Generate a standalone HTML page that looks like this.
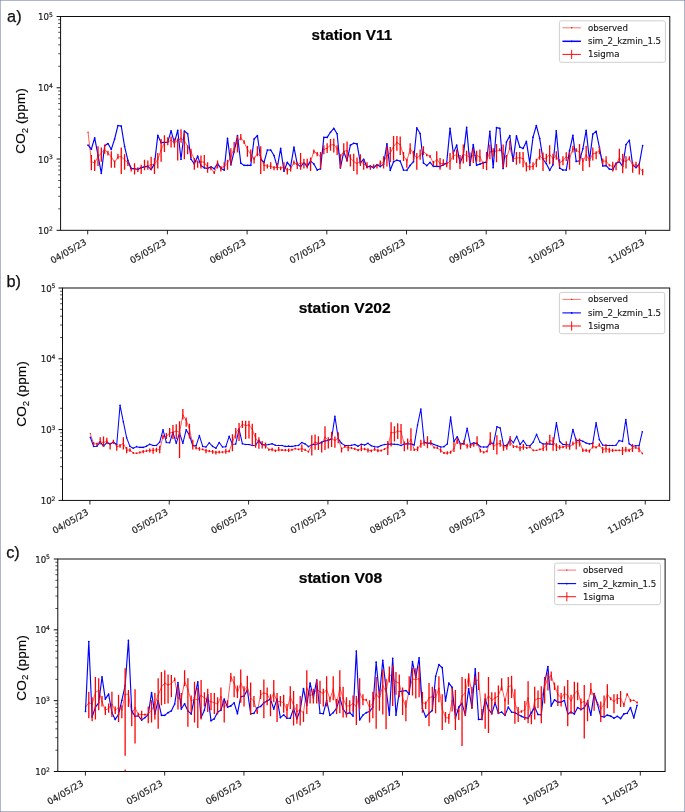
<!DOCTYPE html>
<html lang="en"><head><meta charset="utf-8"><title>CO2 time series at stations V11, V202, V08</title>
<style>
html,body{margin:0;padding:0;background:#fff;}
body{width:685px;height:812px;overflow:hidden;position:relative;}
svg{position:absolute;left:0;top:0;display:block;}
.tk{font-family:"DejaVu Sans","Liberation Sans",sans-serif;font-size:8.9px;fill:#1a1a1a;stroke:#1a1a1a;stroke-width:0.18px;}
.ty{font-size:8.6px;}
.sup{font-size:6.1px;}
.lg{font-family:"DejaVu Sans","Liberation Sans",sans-serif;font-size:8.65px;fill:#1a1a1a;stroke:#1a1a1a;stroke-width:0.15px;}
.lt{font-family:"Liberation Sans",Arial,sans-serif;font-size:16.3px;fill:#111;stroke:#111;stroke-width:0.25px;}
.tt{font-family:"Liberation Sans",Arial,sans-serif;font-size:15.1px;font-weight:bold;fill:#000;stroke:#000;stroke-width:0.2px;}
.yl{font-family:"Liberation Sans",Arial,sans-serif;font-size:13.7px;fill:#000;stroke:#000;stroke-width:0.15px;}
.ysub{font-size:9.6px;}
</style></head><body>
<svg width="685" height="812" viewBox="0 0 685 812">
<rect x="0" y="0" width="685" height="812" fill="#fff"/>
<g opacity="0.999">
<g>
<clipPath id="cpa"><rect x="60.6" y="16.5" width="609.2" height="213.8"/></clipPath>
<g clip-path="url(#cpa)">
<polyline points="88.05,132.26 91.37,161.69 94.69,162.92 98.01,156.79 101.33,153.11 104.65,149.43 107.97,153.11 111.3,156.79 114.62,162.31 117.94,156.79 121.26,156.79 124.58,159.85 127.9,162.92 131.22,169.05 134.54,168.8 137.86,169.66 141.18,168.07 144.5,166.6 147.82,165.98 151.15,164.76 154.47,164.39 157.79,159.24 161.11,150.04 164.43,142.69 167.75,142.07 171.07,140.23 174.39,142.69 177.71,140.85 181.03,138.39 184.35,140.85 187.68,146.36 191,151.88 194.32,159.24 197.64,162.31 200.96,161.69 204.28,162.31 207.6,167.21 210.92,168.07 214.24,172.73 217.56,164.76 220.88,167.82 224.2,166.6 227.52,162.92 230.85,156.79 234.17,148.2 237.49,141.46 240.81,137.78 244.13,142.07 247.45,149.43 250.77,154.33 254.09,159.24 257.41,153.11 260.73,156.79 264.05,165.37 267.38,165.98 270.7,166.35 274.02,167.82 277.34,167.21 280.66,168.07 283.98,167.21 287.3,170.28 290.62,169.05 293.94,162.31 297.26,164.76 300.58,162.92 303.9,163.53 307.23,164.14 310.55,161.69 313.87,151.27 317.19,153.72 320.51,156.79 323.83,149.43 327.15,148.2 330.47,145.14 333.79,144.52 337.11,148.82 340.43,156.79 343.75,151.27 347.07,150.66 350.4,158.01 353.72,161.69 357.04,163.53 360.36,161.08 363.68,164.14 367,165.98 370.32,167.21 373.64,166.35 376.96,165.62 380.28,163.53 383.6,162.31 386.93,155.56 390.25,153.11 393.57,146.36 396.89,142.69 400.21,144.52 403.53,155.56 406.85,161.08 410.17,148.82 413.49,153.72 416.81,158.01 420.13,155.56 423.45,151.27 426.77,154.95 430.1,156.42 433.42,163.16 436.74,159.24 440.06,163.53 443.38,163.53 446.7,164.14 450.02,161.08 453.34,155.56 456.66,154.95 459.98,159.24 463.3,154.33 466.62,155.56 469.95,157.4 473.27,155.56 476.59,155.56 479.91,156.79 483.23,163.53 486.55,160.47 489.87,151.88 493.19,151.27 496.51,151.27 499.83,149.8 503.15,153.72 506.47,158.01 509.8,148.2 513.12,158.99 516.44,158.01 519.76,157.77 523.08,158.63 526.4,165.98 529.72,166.97 533.04,166.35 536.36,161.69 539.68,155.56 543,159.24 546.32,158.01 549.65,154.33 552.97,158.63 556.29,155.56 559.61,162.92 562.93,160.47 566.25,156.79 569.57,158.63 572.89,148.82 576.21,150.04 579.53,152.5 582.85,161.69 586.17,154.95 589.5,160.47 592.82,153.72 596.14,153.11 599.46,150.66 602.78,161.08 606.1,161.08 609.42,165.37 612.74,166.35 616.06,164.14 619.38,158.01 622.7,161.08 626.02,161.08 629.35,158.63 632.67,165.37 635.99,164.76 639.31,167.82 642.63,171.5" stroke="#ff0000" stroke-width="0.65" fill="none" stroke-linejoin="round"/>
<path d="M88.05 132.26h0M91.37 161.69h0M94.69 162.92h0M98.01 156.79h0M101.33 153.11h0M104.65 149.43h0M107.97 153.11h0M111.3 156.79h0M114.62 162.31h0M117.94 156.79h0M121.26 156.79h0M124.58 159.85h0M127.9 162.92h0M131.22 169.05h0M134.54 168.8h0M137.86 169.66h0M141.18 168.07h0M144.5 166.6h0M147.82 165.98h0M151.15 164.76h0M154.47 164.39h0M157.79 159.24h0M161.11 150.04h0M164.43 142.69h0M167.75 142.07h0M171.07 140.23h0M174.39 142.69h0M177.71 140.85h0M181.03 138.39h0M184.35 140.85h0M187.68 146.36h0M191 151.88h0M194.32 159.24h0M197.64 162.31h0M200.96 161.69h0M204.28 162.31h0M207.6 167.21h0M210.92 168.07h0M214.24 172.73h0M217.56 164.76h0M220.88 167.82h0M224.2 166.6h0M227.52 162.92h0M230.85 156.79h0M234.17 148.2h0M237.49 141.46h0M240.81 137.78h0M244.13 142.07h0M247.45 149.43h0M250.77 154.33h0M254.09 159.24h0M257.41 153.11h0M260.73 156.79h0M264.05 165.37h0M267.38 165.98h0M270.7 166.35h0M274.02 167.82h0M277.34 167.21h0M280.66 168.07h0M283.98 167.21h0M287.3 170.28h0M290.62 169.05h0M293.94 162.31h0M297.26 164.76h0M300.58 162.92h0M303.9 163.53h0M307.23 164.14h0M310.55 161.69h0M313.87 151.27h0M317.19 153.72h0M320.51 156.79h0M323.83 149.43h0M327.15 148.2h0M330.47 145.14h0M333.79 144.52h0M337.11 148.82h0M340.43 156.79h0M343.75 151.27h0M347.07 150.66h0M350.4 158.01h0M353.72 161.69h0M357.04 163.53h0M360.36 161.08h0M363.68 164.14h0M367 165.98h0M370.32 167.21h0M373.64 166.35h0M376.96 165.62h0M380.28 163.53h0M383.6 162.31h0M386.93 155.56h0M390.25 153.11h0M393.57 146.36h0M396.89 142.69h0M400.21 144.52h0M403.53 155.56h0M406.85 161.08h0M410.17 148.82h0M413.49 153.72h0M416.81 158.01h0M420.13 155.56h0M423.45 151.27h0M426.77 154.95h0M430.1 156.42h0M433.42 163.16h0M436.74 159.24h0M440.06 163.53h0M443.38 163.53h0M446.7 164.14h0M450.02 161.08h0M453.34 155.56h0M456.66 154.95h0M459.98 159.24h0M463.3 154.33h0M466.62 155.56h0M469.95 157.4h0M473.27 155.56h0M476.59 155.56h0M479.91 156.79h0M483.23 163.53h0M486.55 160.47h0M489.87 151.88h0M493.19 151.27h0M496.51 151.27h0M499.83 149.8h0M503.15 153.72h0M506.47 158.01h0M509.8 148.2h0M513.12 158.99h0M516.44 158.01h0M519.76 157.77h0M523.08 158.63h0M526.4 165.98h0M529.72 166.97h0M533.04 166.35h0M536.36 161.69h0M539.68 155.56h0M543 159.24h0M546.32 158.01h0M549.65 154.33h0M552.97 158.63h0M556.29 155.56h0M559.61 162.92h0M562.93 160.47h0M566.25 156.79h0M569.57 158.63h0M572.89 148.82h0M576.21 150.04h0M579.53 152.5h0M582.85 161.69h0M586.17 154.95h0M589.5 160.47h0M592.82 153.72h0M596.14 153.11h0M599.46 150.66h0M602.78 161.08h0M606.1 161.08h0M609.42 165.37h0M612.74 166.35h0M616.06 164.14h0M619.38 158.01h0M622.7 161.08h0M626.02 161.08h0M629.35 158.63h0M632.67 165.37h0M635.99 164.76h0M639.31 167.82h0M642.63 171.5h0" stroke="#ff0000" stroke-width="1.3" stroke-linecap="round" fill="none"/>
<polyline points="88.05,145.14 91.37,149.18 94.69,137.78 98.01,155.32 101.33,173.34 104.65,145.75 107.97,143.54 111.3,149.43 114.62,139.01 117.94,125.52 121.26,126.13 124.58,146.36 127.9,160.47 131.22,168.44 134.54,168.8 137.86,169.29 141.18,167.58 144.5,166.84 147.82,166.35 151.15,169.42 154.47,164.14 157.79,135.33 161.11,142.69 164.43,142.32 167.75,142.07 171.07,130.79 174.39,142.69 177.71,130.42 181.03,159.24 184.35,131.04 187.68,133.73 191,159.24 194.32,163.9 197.64,156.17 200.96,165.62 204.28,167.82 207.6,168.44 210.92,166.84 214.24,168.8 217.56,163.53 220.88,168.44 224.2,170.03 227.52,138.39 230.85,164.76 234.17,151.27 237.49,135.7 240.81,163.16 244.13,165.37 247.45,165.37 250.77,165.37 254.09,139.01 257.41,135.7 260.73,159.24 264.05,162.31 267.38,150.04 270.7,150.04 274.02,155.56 277.34,167.21 280.66,148.45 283.98,171.26 287.3,162.31 290.62,166.6 293.94,147.22 297.26,164.14 300.58,166.6 303.9,162.92 307.23,166.6 310.55,161.08 313.87,163.9 317.19,170.03 320.51,168.8 323.83,137.41 327.15,137.41 330.47,132.26 333.79,128.34 337.11,133.73 340.43,167.82 343.75,151.64 347.07,160.47 350.4,145.14 353.72,143.3 357.04,143.91 360.36,162.92 363.68,159.24 367,167.21 370.32,165.98 373.64,167.82 376.96,164.76 380.28,166.6 383.6,164.14 386.93,143.91 390.25,170.28 393.57,161.69 396.89,160.22 400.21,161.08 403.53,170.03 406.85,170.28 410.17,165.37 413.49,161.69 416.81,127.97 420.13,133.49 423.45,162.92 426.77,165.62 430.1,162.31 433.42,166.35 436.74,166.35 440.06,166.6 443.38,164.76 446.7,162.92 450.02,128.34 453.34,153.11 456.66,145.14 459.98,162.92 463.3,155.56 466.62,127.36 469.95,165.37 473.27,144.52 476.59,165.13 479.91,164.14 483.23,162.67 486.55,162.31 489.87,131.28 493.19,167.58 496.51,127.6 499.83,128.34 503.15,168.44 506.47,142.07 509.8,135.7 513.12,161.08 516.44,135.94 519.76,146.98 523.08,148.45 526.4,141.46 529.72,162.92 533.04,137.17 536.36,125.52 539.68,138.39 543,159.24 546.32,163.53 549.65,170.28 552.97,164.76 556.29,130.79 559.61,168.07 562.93,170.03 566.25,170.03 569.57,150.66 572.89,135.33 576.21,161.45 579.53,160.71 582.85,148.82 586.17,130.42 589.5,160.47 592.82,134.1 596.14,131.28 599.46,147.59 602.78,165.98 606.1,165.62 609.42,169.05 612.74,169.66 616.06,163.53 619.38,161.69 622.7,166.35 626.02,144.52 629.35,140.23 632.67,165.13 635.99,167.58 639.31,164.14 642.63,145.51" stroke="#0000ff" stroke-width="1.15" fill="none" stroke-linejoin="round"/>
<path d="M88.05 145.14h0M91.37 149.18h0M94.69 137.78h0M98.01 155.32h0M101.33 173.34h0M104.65 145.75h0M107.97 143.54h0M111.3 149.43h0M114.62 139.01h0M117.94 125.52h0M121.26 126.13h0M124.58 146.36h0M127.9 160.47h0M131.22 168.44h0M134.54 168.8h0M137.86 169.29h0M141.18 167.58h0M144.5 166.84h0M147.82 166.35h0M151.15 169.42h0M154.47 164.14h0M157.79 135.33h0M161.11 142.69h0M164.43 142.32h0M167.75 142.07h0M171.07 130.79h0M174.39 142.69h0M177.71 130.42h0M181.03 159.24h0M184.35 131.04h0M187.68 133.73h0M191 159.24h0M194.32 163.9h0M197.64 156.17h0M200.96 165.62h0M204.28 167.82h0M207.6 168.44h0M210.92 166.84h0M214.24 168.8h0M217.56 163.53h0M220.88 168.44h0M224.2 170.03h0M227.52 138.39h0M230.85 164.76h0M234.17 151.27h0M237.49 135.7h0M240.81 163.16h0M244.13 165.37h0M247.45 165.37h0M250.77 165.37h0M254.09 139.01h0M257.41 135.7h0M260.73 159.24h0M264.05 162.31h0M267.38 150.04h0M270.7 150.04h0M274.02 155.56h0M277.34 167.21h0M280.66 148.45h0M283.98 171.26h0M287.3 162.31h0M290.62 166.6h0M293.94 147.22h0M297.26 164.14h0M300.58 166.6h0M303.9 162.92h0M307.23 166.6h0M310.55 161.08h0M313.87 163.9h0M317.19 170.03h0M320.51 168.8h0M323.83 137.41h0M327.15 137.41h0M330.47 132.26h0M333.79 128.34h0M337.11 133.73h0M340.43 167.82h0M343.75 151.64h0M347.07 160.47h0M350.4 145.14h0M353.72 143.3h0M357.04 143.91h0M360.36 162.92h0M363.68 159.24h0M367 167.21h0M370.32 165.98h0M373.64 167.82h0M376.96 164.76h0M380.28 166.6h0M383.6 164.14h0M386.93 143.91h0M390.25 170.28h0M393.57 161.69h0M396.89 160.22h0M400.21 161.08h0M403.53 170.03h0M406.85 170.28h0M410.17 165.37h0M413.49 161.69h0M416.81 127.97h0M420.13 133.49h0M423.45 162.92h0M426.77 165.62h0M430.1 162.31h0M433.42 166.35h0M436.74 166.35h0M440.06 166.6h0M443.38 164.76h0M446.7 162.92h0M450.02 128.34h0M453.34 153.11h0M456.66 145.14h0M459.98 162.92h0M463.3 155.56h0M466.62 127.36h0M469.95 165.37h0M473.27 144.52h0M476.59 165.13h0M479.91 164.14h0M483.23 162.67h0M486.55 162.31h0M489.87 131.28h0M493.19 167.58h0M496.51 127.6h0M499.83 128.34h0M503.15 168.44h0M506.47 142.07h0M509.8 135.7h0M513.12 161.08h0M516.44 135.94h0M519.76 146.98h0M523.08 148.45h0M526.4 141.46h0M529.72 162.92h0M533.04 137.17h0M536.36 125.52h0M539.68 138.39h0M543 159.24h0M546.32 163.53h0M549.65 170.28h0M552.97 164.76h0M556.29 130.79h0M559.61 168.07h0M562.93 170.03h0M566.25 170.03h0M569.57 150.66h0M572.89 135.33h0M576.21 161.45h0M579.53 160.71h0M582.85 148.82h0M586.17 130.42h0M589.5 160.47h0M592.82 134.1h0M596.14 131.28h0M599.46 147.59h0M602.78 165.98h0M606.1 165.62h0M609.42 169.05h0M612.74 169.66h0M616.06 163.53h0M619.38 161.69h0M622.7 166.35h0M626.02 144.52h0M629.35 140.23h0M632.67 165.13h0M635.99 167.58h0M639.31 164.14h0M642.63 145.51h0" stroke="#0000ff" stroke-width="1.7" stroke-linecap="round" fill="none"/>
<path d="M91.37 170.28V154.95M94.69 170.89V159.85M98.01 165.98V146.36M101.33 161.69V147.59M104.65 153.72V144.52M107.97 155.56V150.66M111.3 167.82V151.27M114.62 167.82V160.47M117.94 159.24V153.72M121.26 173.95V147.59M124.58 169.66V154.33M127.9 165.98V161.08M131.22 171.5V167.21M134.54 174.57V163.16M137.86 172.12V167.21M141.18 173.95V164.76M144.5 170.28V159.85M147.82 169.66V160.47M151.15 170.28V156.79M154.47 173.95V158.01M157.79 168.44V153.11M161.11 161.69V139.01M164.43 151.88V135.33M167.75 145.14V137.17M171.07 147.59V136.55M174.39 147.59V138.39M177.71 160.47V138.39M181.03 142.69V129.2M184.35 159.24V132.26M187.68 154.33V145.14M191 158.01V148.82M194.32 169.66V158.01M197.64 167.82V160.47M200.96 168.44V155.56M204.28 167.21V154.95M207.6 172.73V162.31M210.92 170.28V166.6M214.24 173.95V170.89M217.56 168.44V160.47M220.88 171.5V165.98M224.2 168.44V162.31M227.52 169.66V159.85M230.85 165.37V148.2M234.17 153.11V142.07M237.49 152.5V135.94M240.81 140.23V134.1M244.13 143.91V140.23M247.45 156.79V145.75M250.77 161.69V149.43M254.09 163.53V156.79M257.41 156.17V146.36M260.73 173.95V146.36M264.05 170.89V161.69M267.38 168.44V164.14M270.7 169.05V162.31M274.02 170.28V165.98M277.34 170.28V162.92M280.66 170.28V166.6M283.98 170.28V162.31M287.3 174.57V167.82M290.62 171.5V166.6M293.94 164.76V160.47M297.26 169.05V162.31M300.58 169.66V153.11M303.9 168.44V158.63M307.23 168.44V158.63M310.55 170.89V157.4M313.87 153.72V149.43M317.19 156.17V151.88M320.51 168.44V151.88M323.83 154.33V145.14M327.15 153.11V143.3M330.47 150.66V139.01M333.79 152.5V138.39M337.11 154.95V145.14M340.43 168.44V154.33M343.75 155.56V143.3M347.07 161.69V141.46M350.4 166.6V154.33M353.72 170.89V153.72M357.04 174.57V157.4M360.36 165.98V154.33M363.68 169.66V161.08M367 168.44V162.31M370.32 169.66V165.37M373.64 167.82V164.14M376.96 168.44V164.14M380.28 165.98V160.47M383.6 168.44V156.17M386.93 166.6V146.36M390.25 162.31V146.98M393.57 160.47V135.94M396.89 150.66V135.94M400.21 154.95V136.55M403.53 161.08V151.88M406.85 167.82V158.63M410.17 154.33V143.3M413.49 161.08V150.66M416.81 169.66V153.11M420.13 159.85V149.43M423.45 154.95V146.36M426.77 156.17V153.72M430.1 158.01V154.95M433.42 165.37V161.08M436.74 165.98V151.27M440.06 169.66V158.01M443.38 165.98V159.24M446.7 167.21V161.69M450.02 169.66V153.11M453.34 159.85V150.66M456.66 162.92V149.43M459.98 169.05V154.95M463.3 163.53V144.52M466.62 161.69V150.66M469.95 164.14V152.5M473.27 162.92V148.82M476.59 161.69V150.66M479.91 162.31V149.43M483.23 169.05V161.69M486.55 170.28V151.88M489.87 159.24V144.52M493.19 156.79V148.2M496.51 162.31V143.91M499.83 151.27V148.2M503.15 167.82V144.52M506.47 167.21V154.95M509.8 149.43V140.85M513.12 160.47V157.4M516.44 164.76V151.88M519.76 163.53V151.88M523.08 167.21V151.88M526.4 171.5V162.31M529.72 170.28V164.14M533.04 169.66V162.31M536.36 167.21V158.63M539.68 159.85V148.82M543 170.89V152.5M546.32 162.31V153.72M549.65 164.14V145.14M552.97 164.14V153.72M556.29 159.85V151.27M559.61 167.21V159.24M562.93 165.37V156.17M566.25 161.08V152.13M569.57 169.66V152.5M572.89 152.5V145.75M576.21 151.88V148.2M579.53 164.76V143.91M582.85 170.89V158.01M586.17 161.08V145.75M589.5 167.21V156.79M592.82 160.47V147.59M596.14 159.24V151.27M599.46 154.33V146.98M602.78 164.76V158.63M606.1 165.37V156.17M609.42 166.6V164.14M612.74 171.5V161.69M616.06 170.28V162.31M619.38 162.31V148.82M622.7 173.34V153.72M626.02 168.44V156.17M629.35 160.47V156.17M632.67 172.73V162.31M635.99 167.21V161.69M639.31 174.57V163.53M642.63 175.18V169.05" stroke="#ff0000" stroke-width="1.3" fill="none"/>
</g>
<path d="M60.6 230.3h-4.0M60.6 159.03h-4.0M60.6 87.77h-4.0M60.6 16.5h-4.0" stroke="#000" stroke-width="0.95" fill="none"/>
<path d="M60.6 208.85h-2.4M60.6 196.3h-2.4M60.6 187.39h-2.4M60.6 180.49h-2.4M60.6 174.84h-2.4M60.6 170.07h-2.4M60.6 165.94h-2.4M60.6 162.29h-2.4M60.6 137.58h-2.4M60.6 125.03h-2.4M60.6 116.13h-2.4M60.6 109.22h-2.4M60.6 103.58h-2.4M60.6 98.81h-2.4M60.6 94.67h-2.4M60.6 91.03h-2.4M60.6 66.31h-2.4M60.6 53.76h-2.4M60.6 44.86h-2.4M60.6 37.95h-2.4M60.6 32.31h-2.4M60.6 27.54h-2.4M60.6 23.41h-2.4M60.6 19.76h-2.4" stroke="#000" stroke-width="0.7" fill="none"/>
<path d="M87.7 230.3v4.1M167.4 230.3v4.1M247.1 230.3v4.1M326.8 230.3v4.1M406.5 230.3v4.1M486.2 230.3v4.1M565.9 230.3v4.1M645.6 230.3v4.1" stroke="#111" stroke-width="0.9" fill="none"/>
<rect x="60.6" y="16.5" width="609.2" height="213.8" fill="none" stroke="#000" stroke-width="0.95"/>
<text class="tk ty" x="52.8" y="233.9" text-anchor="end">10<tspan class="sup" dy="-3.4">2</tspan></text>
<text class="tk ty" x="52.8" y="162.63" text-anchor="end">10<tspan class="sup" dy="-3.4">3</tspan></text>
<text class="tk ty" x="52.8" y="91.37" text-anchor="end">10<tspan class="sup" dy="-3.4">4</tspan></text>
<text class="tk ty" x="52.8" y="20.1" text-anchor="end">10<tspan class="sup" dy="-3.4">5</tspan></text>
<text class="tk" text-anchor="end" transform="translate(87.2 243.9) rotate(-30)">04/05/23</text>
<text class="tk" text-anchor="end" transform="translate(166.9 243.9) rotate(-30)">05/05/23</text>
<text class="tk" text-anchor="end" transform="translate(246.6 243.9) rotate(-30)">06/05/23</text>
<text class="tk" text-anchor="end" transform="translate(326.3 243.9) rotate(-30)">07/05/23</text>
<text class="tk" text-anchor="end" transform="translate(406 243.9) rotate(-30)">08/05/23</text>
<text class="tk" text-anchor="end" transform="translate(485.7 243.9) rotate(-30)">09/05/23</text>
<text class="tk" text-anchor="end" transform="translate(565.4 243.9) rotate(-30)">10/05/23</text>
<text class="tk" text-anchor="end" transform="translate(645.1 243.9) rotate(-30)">11/05/23</text>
<text class="yl" text-anchor="middle" transform="translate(25.3 121) rotate(-90)">CO<tspan class="ysub" dy="2.6">2</tspan><tspan dy="-2.6"> (ppm)</tspan></text>
<text class="lt" x="7.1" y="21.9">a)</text>
<text class="tt" x="311.6" y="39.8" textLength="80.6" lengthAdjust="spacingAndGlyphs">station V11</text>
<rect x="559.4" y="20.8" width="106" height="41.5" rx="2" ry="2" fill="#fff" fill-opacity="0.8" stroke="#cccccc" stroke-width="0.95"/>
<path d="M562.4 27.8H580.9" stroke="#ff0000" stroke-width="0.55"/>
<circle cx="571.65" cy="27.8" r="0.7" fill="#ff0000"/>
<path d="M562.4 41.3H580.9" stroke="#0000ff" stroke-width="1.5"/>
<circle cx="571.65" cy="41.3" r="0.9" fill="#0000ff"/>
<path d="M562.4 54.4H580.9M571.65 49.8V59" stroke="#ff0000" stroke-width="0.95" fill="none"/>
<text class="lg" x="587.9" y="30.8">observed</text>
<text class="lg" x="587.9" y="44.3">sim_2_kzmin_1.5</text>
<text class="lg" x="587.9" y="57.4">1sigma</text>
</g>
<g>
<clipPath id="cpb"><rect x="62.5" y="288" width="607.2" height="212.4"/></clipPath>
<g clip-path="url(#cpb)">
<polyline points="90.3,433.53 93.61,443.95 96.91,443.71 100.22,441.5 103.52,442.73 106.83,440.89 110.13,444.57 113.44,441.5 116.75,446.65 120.05,445.79 123.36,443.34 126.66,450.09 129.97,450.09 133.27,452.91 136.58,453.4 139.88,452.54 143.19,451.68 146.5,450.94 149.8,450.33 153.11,450.33 156.41,449.84 159.72,449.47 163.02,436.6 166.33,436.6 169.64,432.92 172.94,432.31 176.25,431.08 179.55,432.31 182.86,415.14 186.16,420.04 189.47,429.24 192.78,444.57 196.08,447.88 199.39,448.86 202.69,449.47 206,450.7 209.3,451.07 212.61,451.93 215.91,452.29 219.22,452.05 222.53,452.17 225.83,451.56 229.14,451.31 232.44,442.73 235.75,432.92 239.05,428.63 242.36,424.33 245.67,425.56 248.97,424.95 252.28,429.24 255.58,438.44 258.89,442.12 262.19,444.94 265.5,445.43 268.81,449.72 272.11,449.47 275.42,450.7 278.72,449.84 282.03,450.09 285.33,450.21 288.64,450.33 291.94,449.84 295.25,448.61 298.56,449.47 301.86,448.61 305.17,450.09 308.47,451.68 311.78,445.18 315.08,442.12 318.39,442.97 321.7,443.95 325,437.21 328.31,440.28 331.61,439.05 334.92,440.28 338.22,438.44 341.53,449.1 344.84,446.65 348.14,447.63 351.45,448 354.75,448.86 358.06,450.21 361.36,448.86 364.67,449.1 367.98,450.09 371.28,450.7 374.59,449.47 377.89,450.7 381.2,450.7 384.5,449.1 387.81,447.39 391.11,432.31 394.42,432.92 397.73,431.08 401.03,431.45 404.34,444.57 407.64,443.34 410.95,439.66 414.25,449.84 417.56,449.1 420.87,443.95 424.17,442.97 427.48,443.34 430.78,442.97 434.09,447.63 437.39,448 440.7,450.7 444.01,452.91 447.31,453.15 450.62,452.29 453.92,448.61 457.23,440.28 460.53,445.18 463.84,443.95 467.14,445.79 470.45,446.16 473.76,443.95 477.06,442.73 480.37,450.7 483.67,452.42 486.98,451.31 490.28,439.66 493.59,446.41 496.9,443.95 500.2,443.71 503.51,447.02 506.81,446.65 510.12,441.5 513.42,446.53 516.73,446.53 520.04,448.25 523.34,446.65 526.65,448 529.95,447.27 533.26,450.33 536.56,450.45 539.87,449.47 543.17,448.61 546.48,445.18 549.79,440.28 553.09,441.5 556.4,446.65 559.7,447.39 563.01,447.02 566.31,445.79 569.62,447.02 572.93,443.95 576.23,442.73 579.54,441.5 582.84,450.33 586.15,450.33 589.45,451.07 592.76,446.41 596.07,447.39 599.37,444.94 602.68,449.47 605.98,448.61 609.29,450.09 612.59,450.33 615.9,450.45 619.2,450.33 622.51,450.33 625.82,449.84 629.12,450.33 632.43,448.25 635.73,447.63 639.04,448.86 642.34,453.52" stroke="#ff0000" stroke-width="0.65" fill="none" stroke-linejoin="round"/>
<path d="M90.3 433.53h0M93.61 443.95h0M96.91 443.71h0M100.22 441.5h0M103.52 442.73h0M106.83 440.89h0M110.13 444.57h0M113.44 441.5h0M116.75 446.65h0M120.05 445.79h0M123.36 443.34h0M126.66 450.09h0M129.97 450.09h0M133.27 452.91h0M136.58 453.4h0M139.88 452.54h0M143.19 451.68h0M146.5 450.94h0M149.8 450.33h0M153.11 450.33h0M156.41 449.84h0M159.72 449.47h0M163.02 436.6h0M166.33 436.6h0M169.64 432.92h0M172.94 432.31h0M176.25 431.08h0M179.55 432.31h0M182.86 415.14h0M186.16 420.04h0M189.47 429.24h0M192.78 444.57h0M196.08 447.88h0M199.39 448.86h0M202.69 449.47h0M206 450.7h0M209.3 451.07h0M212.61 451.93h0M215.91 452.29h0M219.22 452.05h0M222.53 452.17h0M225.83 451.56h0M229.14 451.31h0M232.44 442.73h0M235.75 432.92h0M239.05 428.63h0M242.36 424.33h0M245.67 425.56h0M248.97 424.95h0M252.28 429.24h0M255.58 438.44h0M258.89 442.12h0M262.19 444.94h0M265.5 445.43h0M268.81 449.72h0M272.11 449.47h0M275.42 450.7h0M278.72 449.84h0M282.03 450.09h0M285.33 450.21h0M288.64 450.33h0M291.94 449.84h0M295.25 448.61h0M298.56 449.47h0M301.86 448.61h0M305.17 450.09h0M308.47 451.68h0M311.78 445.18h0M315.08 442.12h0M318.39 442.97h0M321.7 443.95h0M325 437.21h0M328.31 440.28h0M331.61 439.05h0M334.92 440.28h0M338.22 438.44h0M341.53 449.1h0M344.84 446.65h0M348.14 447.63h0M351.45 448h0M354.75 448.86h0M358.06 450.21h0M361.36 448.86h0M364.67 449.1h0M367.98 450.09h0M371.28 450.7h0M374.59 449.47h0M377.89 450.7h0M381.2 450.7h0M384.5 449.1h0M387.81 447.39h0M391.11 432.31h0M394.42 432.92h0M397.73 431.08h0M401.03 431.45h0M404.34 444.57h0M407.64 443.34h0M410.95 439.66h0M414.25 449.84h0M417.56 449.1h0M420.87 443.95h0M424.17 442.97h0M427.48 443.34h0M430.78 442.97h0M434.09 447.63h0M437.39 448h0M440.7 450.7h0M444.01 452.91h0M447.31 453.15h0M450.62 452.29h0M453.92 448.61h0M457.23 440.28h0M460.53 445.18h0M463.84 443.95h0M467.14 445.79h0M470.45 446.16h0M473.76 443.95h0M477.06 442.73h0M480.37 450.7h0M483.67 452.42h0M486.98 451.31h0M490.28 439.66h0M493.59 446.41h0M496.9 443.95h0M500.2 443.71h0M503.51 447.02h0M506.81 446.65h0M510.12 441.5h0M513.42 446.53h0M516.73 446.53h0M520.04 448.25h0M523.34 446.65h0M526.65 448h0M529.95 447.27h0M533.26 450.33h0M536.56 450.45h0M539.87 449.47h0M543.17 448.61h0M546.48 445.18h0M549.79 440.28h0M553.09 441.5h0M556.4 446.65h0M559.7 447.39h0M563.01 447.02h0M566.31 445.79h0M569.62 447.02h0M572.93 443.95h0M576.23 442.73h0M579.54 441.5h0M582.84 450.33h0M586.15 450.33h0M589.45 451.07h0M592.76 446.41h0M596.07 447.39h0M599.37 444.94h0M602.68 449.47h0M605.98 448.61h0M609.29 450.09h0M612.59 450.33h0M615.9 450.45h0M619.2 450.33h0M622.51 450.33h0M625.82 449.84h0M629.12 450.33h0M632.43 448.25h0M635.73 447.63h0M639.04 448.86h0M642.34 453.52h0" stroke="#ff0000" stroke-width="1.3" stroke-linecap="round" fill="none"/>
<polyline points="90.3,437.21 93.61,446.41 96.91,446.16 100.22,442.12 103.52,446.16 106.83,442.73 110.13,443.95 113.44,442.12 116.75,444.57 120.05,405.33 123.36,421.88 126.66,437.82 129.97,446.41 133.27,448.25 136.58,446.65 139.88,447.39 143.19,447.39 146.5,446.16 149.8,444.2 153.11,445.43 156.41,445.43 159.72,442.12 163.02,429.85 166.33,442.48 169.64,442.73 172.94,432.31 176.25,443.34 179.55,432.92 182.86,443.34 186.16,429.85 189.47,435.37 192.78,445.79 196.08,445.79 199.39,435.62 202.69,446.41 206,447.02 209.3,442.73 212.61,446.41 215.91,448.25 219.22,442.48 222.53,447.02 225.83,446.65 229.14,436.35 232.44,444.2 235.75,443.95 239.05,429.24 242.36,443.71 245.67,444.57 248.97,444.57 252.28,445.43 255.58,445.18 258.89,440.28 262.19,444.57 265.5,444.94 268.81,444.57 272.11,443.71 275.42,445.18 278.72,445.43 282.03,445.43 285.33,446.41 288.64,446.16 291.94,446.41 295.25,445.79 298.56,445.43 301.86,442.48 305.17,443.95 308.47,446.65 311.78,444.57 315.08,444.57 318.39,443.71 321.7,442.12 325,440.89 328.31,440.52 331.61,438.44 334.92,416.36 338.22,438.44 341.53,443.34 344.84,445.43 348.14,445.43 351.45,445.18 354.75,444.57 358.06,446.16 361.36,444.2 364.67,444.94 367.98,443.34 371.28,445.79 374.59,446.65 377.89,447.02 381.2,445.43 384.5,444.57 387.81,444.2 391.11,443.95 394.42,444.2 397.73,444.57 401.03,445.43 404.34,443.95 407.64,443.71 410.95,443.95 414.25,444.94 417.56,424.95 420.87,409.01 424.17,442.12 427.48,443.34 430.78,442.97 434.09,444.57 437.39,445.79 440.7,447.02 444.01,446.65 447.31,443.95 450.62,416.98 453.92,441.5 457.23,436.84 460.53,443.95 463.84,443.34 467.14,428.26 470.45,444.57 473.76,442.73 477.06,443.71 480.37,446.65 483.67,447.02 486.98,447.02 490.28,443.34 493.59,443.34 496.9,426.79 500.2,428.01 503.51,445.18 506.81,445.79 510.12,439.05 513.42,442.73 516.73,436.35 520.04,444.57 523.34,440.52 526.65,445.43 529.95,445.79 533.26,442.12 536.56,434.39 539.87,442.12 543.17,443.95 546.48,443.71 549.79,443.95 553.09,444.57 556.4,422.86 559.7,441.5 563.01,444.57 566.31,444.57 569.62,445.18 572.93,429.48 576.23,440.89 579.54,440.03 582.84,441.26 586.15,442.97 589.45,443.95 592.76,443.34 596.07,422.86 599.37,439.66 602.68,444.94 605.98,445.43 609.29,445.43 612.59,445.43 615.9,445.18 619.2,440.52 622.51,441.5 625.82,419.43 629.12,443.71 632.43,446.16 635.73,445.79 639.04,445.79 642.34,431.69" stroke="#0000ff" stroke-width="1.05" fill="none" stroke-linejoin="round"/>
<path d="M90.3 437.21h0M93.61 446.41h0M96.91 446.16h0M100.22 442.12h0M103.52 446.16h0M106.83 442.73h0M110.13 443.95h0M113.44 442.12h0M116.75 444.57h0M120.05 405.33h0M123.36 421.88h0M126.66 437.82h0M129.97 446.41h0M133.27 448.25h0M136.58 446.65h0M139.88 447.39h0M143.19 447.39h0M146.5 446.16h0M149.8 444.2h0M153.11 445.43h0M156.41 445.43h0M159.72 442.12h0M163.02 429.85h0M166.33 442.48h0M169.64 442.73h0M172.94 432.31h0M176.25 443.34h0M179.55 432.92h0M182.86 443.34h0M186.16 429.85h0M189.47 435.37h0M192.78 445.79h0M196.08 445.79h0M199.39 435.62h0M202.69 446.41h0M206 447.02h0M209.3 442.73h0M212.61 446.41h0M215.91 448.25h0M219.22 442.48h0M222.53 447.02h0M225.83 446.65h0M229.14 436.35h0M232.44 444.2h0M235.75 443.95h0M239.05 429.24h0M242.36 443.71h0M245.67 444.57h0M248.97 444.57h0M252.28 445.43h0M255.58 445.18h0M258.89 440.28h0M262.19 444.57h0M265.5 444.94h0M268.81 444.57h0M272.11 443.71h0M275.42 445.18h0M278.72 445.43h0M282.03 445.43h0M285.33 446.41h0M288.64 446.16h0M291.94 446.41h0M295.25 445.79h0M298.56 445.43h0M301.86 442.48h0M305.17 443.95h0M308.47 446.65h0M311.78 444.57h0M315.08 444.57h0M318.39 443.71h0M321.7 442.12h0M325 440.89h0M328.31 440.52h0M331.61 438.44h0M334.92 416.36h0M338.22 438.44h0M341.53 443.34h0M344.84 445.43h0M348.14 445.43h0M351.45 445.18h0M354.75 444.57h0M358.06 446.16h0M361.36 444.2h0M364.67 444.94h0M367.98 443.34h0M371.28 445.79h0M374.59 446.65h0M377.89 447.02h0M381.2 445.43h0M384.5 444.57h0M387.81 444.2h0M391.11 443.95h0M394.42 444.2h0M397.73 444.57h0M401.03 445.43h0M404.34 443.95h0M407.64 443.71h0M410.95 443.95h0M414.25 444.94h0M417.56 424.95h0M420.87 409.01h0M424.17 442.12h0M427.48 443.34h0M430.78 442.97h0M434.09 444.57h0M437.39 445.79h0M440.7 447.02h0M444.01 446.65h0M447.31 443.95h0M450.62 416.98h0M453.92 441.5h0M457.23 436.84h0M460.53 443.95h0M463.84 443.34h0M467.14 428.26h0M470.45 444.57h0M473.76 442.73h0M477.06 443.71h0M480.37 446.65h0M483.67 447.02h0M486.98 447.02h0M490.28 443.34h0M493.59 443.34h0M496.9 426.79h0M500.2 428.01h0M503.51 445.18h0M506.81 445.79h0M510.12 439.05h0M513.42 442.73h0M516.73 436.35h0M520.04 444.57h0M523.34 440.52h0M526.65 445.43h0M529.95 445.79h0M533.26 442.12h0M536.56 434.39h0M539.87 442.12h0M543.17 443.95h0M546.48 443.71h0M549.79 443.95h0M553.09 444.57h0M556.4 422.86h0M559.7 441.5h0M563.01 444.57h0M566.31 444.57h0M569.62 445.18h0M572.93 429.48h0M576.23 440.89h0M579.54 440.03h0M582.84 441.26h0M586.15 442.97h0M589.45 443.95h0M592.76 443.34h0M596.07 422.86h0M599.37 439.66h0M602.68 444.94h0M605.98 445.43h0M609.29 445.43h0M612.59 445.43h0M615.9 445.18h0M619.2 440.52h0M622.51 441.5h0M625.82 419.43h0M629.12 443.71h0M632.43 446.16h0M635.73 445.79h0M639.04 445.79h0M642.34 431.69h0" stroke="#0000ff" stroke-width="1.6" stroke-linecap="round" fill="none"/>
<path d="M93.61 445.18V442.12M96.91 445.18V442.73M100.22 444.57V437.21M103.52 447.02V436.6M106.83 443.95V437.82M110.13 449.47V442.73M113.44 443.95V439.66M116.75 450.7V444.57M120.05 447.63V443.95M123.36 449.47V437.21M126.66 453.15V447.02M129.97 451.93V448.25M133.27 453.76V451.93M136.58 454.01V452.54M139.88 453.52V451.31M143.19 453.15V450.09M146.5 451.93V449.84M149.8 452.54V448.61M153.11 453.76V447.63M156.41 451.93V447.63M159.72 453.15V445.79M163.02 439.05V434.76M166.33 439.05V432.92M169.64 437.21V428.01M172.94 439.05V424.95M176.25 439.05V424.33M179.55 458.06V421.27M182.86 419.43V409.01M186.16 426.79V417.59M189.47 438.44V423.72M192.78 449.47V439.66M196.08 449.47V446.41M199.39 450.7V447.02M202.69 450.33V448.61M206 453.15V448.86M209.3 452.29V450.09M212.61 453.76V450.09M215.91 454.38V450.7M219.22 453.52V450.7M222.53 453.15V451.31M225.83 453.76V448.86M229.14 452.54V450.09M232.44 451.31V434.14M235.75 438.44V428.01M239.05 440.89V423.11M242.36 428.01V420.66M245.67 439.05V420.66M248.97 438.44V420.66M252.28 445.79V423.72M255.58 447.63V432.92M258.89 448.86V437.21M262.19 448.61V440.89M265.5 448.61V442.48M268.81 450.7V448.61M272.11 451.31V447.63M275.42 451.93V449.47M278.72 451.31V447.02M282.03 451.07V449.1M285.33 451.31V449.1M288.64 451.93V448.61M291.94 450.7V448.86M295.25 449.47V447.63M298.56 450.33V448.61M301.86 451.93V444.57M305.17 450.7V448.86M308.47 452.54V450.7M311.78 455.6V435.13M315.08 449.84V434.39M318.39 450.09V436.35M321.7 452.54V442.73M325 450.09V426.17M328.31 448.61V437.21M331.61 447.02V431.69M334.92 447.63V436.6M338.22 443.34V432.31M341.53 452.54V447.39M344.84 447.63V445.79M348.14 451.31V445.18M351.45 449.1V447.02M354.75 450.09V447.63M358.06 451.31V449.1M361.36 451.31V445.18M364.67 450.33V447.63M367.98 452.54V448.25M371.28 452.29V449.47M374.59 450.7V447.63M377.89 452.29V448.86M381.2 451.56V449.47M384.5 450.09V448.25M387.81 454.99V440.89M391.11 446.41V422.13M394.42 441.5V426.17M397.73 439.05V423.35M401.03 443.95V424.09M404.34 451.31V441.5M407.64 449.47V438.44M410.95 450.7V428.26M414.25 451.07V448.61M417.56 451.31V446.41M420.87 447.63V439.66M424.17 445.79V440.52M427.48 448.25V436.35M430.78 445.18V440.03M434.09 448.61V446.41M437.39 449.1V446.65M440.7 452.54V448.25M444.01 454.01V451.93M447.31 454.38V451.31M450.62 453.76V450.7M453.92 451.93V442.12M457.23 443.95V438.07M460.53 449.47V443.34M463.84 444.94V440.28M467.14 448.61V443.71M470.45 447.88V444.2M473.76 446.65V442.48M477.06 445.79V436.35M480.37 452.54V448.86M483.67 453.52V451.31M486.98 452.54V450.33M490.28 445.18V432.31M493.59 450.09V443.71M496.9 454.38V435.13M500.2 446.65V440.03M503.51 450.7V444.57M506.81 449.84V443.95M510.12 445.79V435.98M513.42 447.88V445.18M516.73 447.63V445.43M520.04 451.31V445.79M523.34 449.84V443.95M526.65 449.1V447.02M529.95 448.25V446.16M533.26 451.31V449.47M536.56 451.07V449.84M539.87 450.33V448.61M543.17 451.07V444.57M546.48 450.7V441.5M549.79 443.95V434.76M553.09 450.7V437.21M556.4 451.07V443.34M559.7 449.47V444.94M563.01 448.25V445.79M566.31 448.86V441.26M569.62 449.84V444.94M572.93 445.43V441.5M576.23 449.47V438.44M579.54 446.41V438.44M582.84 451.93V448.61M586.15 451.93V448.86M589.45 452.78V449.47M592.76 448.61V442.12M596.07 448.61V446.16M599.37 446.65V443.34M602.68 453.15V447.02M605.98 452.54V443.95M609.29 452.78V447.63M612.59 451.93V448.86M615.9 451.31V449.47M619.2 451.31V449.47M622.51 454.99V447.02M625.82 452.29V446.65M629.12 451.93V448.86M632.43 451.93V443.95M635.73 448.86V446.41M639.04 452.29V446.65M642.34 454.26V452.78" stroke="#ff0000" stroke-width="1.3" fill="none"/>
</g>
<path d="M62.5 500.4h-4.0M62.5 429.6h-4.0M62.5 358.8h-4.0M62.5 288h-4.0" stroke="#000" stroke-width="0.95" fill="none"/>
<path d="M62.5 479.09h-2.4M62.5 466.62h-2.4M62.5 457.77h-2.4M62.5 450.91h-2.4M62.5 445.31h-2.4M62.5 440.57h-2.4M62.5 436.46h-2.4M62.5 432.84h-2.4M62.5 408.29h-2.4M62.5 395.82h-2.4M62.5 386.97h-2.4M62.5 380.11h-2.4M62.5 374.51h-2.4M62.5 369.77h-2.4M62.5 365.66h-2.4M62.5 362.04h-2.4M62.5 337.49h-2.4M62.5 325.02h-2.4M62.5 316.17h-2.4M62.5 309.31h-2.4M62.5 303.71h-2.4M62.5 298.97h-2.4M62.5 294.86h-2.4M62.5 291.24h-2.4" stroke="#000" stroke-width="0.7" fill="none"/>
<path d="M89.9 500.4v4.1M169.24 500.4v4.1M248.57 500.4v4.1M327.91 500.4v4.1M407.24 500.4v4.1M486.58 500.4v4.1M565.91 500.4v4.1M645.25 500.4v4.1" stroke="#111" stroke-width="0.9" fill="none"/>
<rect x="62.5" y="288" width="607.2" height="212.4" fill="none" stroke="#000" stroke-width="0.95"/>
<text class="tk ty" x="55.5" y="504" text-anchor="end">10<tspan class="sup" dy="-3.4">2</tspan></text>
<text class="tk ty" x="55.5" y="433.2" text-anchor="end">10<tspan class="sup" dy="-3.4">3</tspan></text>
<text class="tk ty" x="55.5" y="362.4" text-anchor="end">10<tspan class="sup" dy="-3.4">4</tspan></text>
<text class="tk ty" x="55.5" y="291.6" text-anchor="end">10<tspan class="sup" dy="-3.4">5</tspan></text>
<text class="tk" text-anchor="end" transform="translate(89.2 514) rotate(-30)">04/05/23</text>
<text class="tk" text-anchor="end" transform="translate(168.54 514) rotate(-30)">05/05/23</text>
<text class="tk" text-anchor="end" transform="translate(247.87 514) rotate(-30)">06/05/23</text>
<text class="tk" text-anchor="end" transform="translate(327.21 514) rotate(-30)">07/05/23</text>
<text class="tk" text-anchor="end" transform="translate(406.54 514) rotate(-30)">08/05/23</text>
<text class="tk" text-anchor="end" transform="translate(485.88 514) rotate(-30)">09/05/23</text>
<text class="tk" text-anchor="end" transform="translate(565.21 514) rotate(-30)">10/05/23</text>
<text class="tk" text-anchor="end" transform="translate(644.55 514) rotate(-30)">11/05/23</text>
<text class="yl" text-anchor="middle" transform="translate(25.9 394) rotate(-90)">CO<tspan class="ysub" dy="2.6">2</tspan><tspan dy="-2.6"> (ppm)</tspan></text>
<text class="lt" x="6.4" y="287.4">b)</text>
<text class="tt" x="298.7" y="312.9" textLength="92" lengthAdjust="spacingAndGlyphs">station V202</text>
<rect x="559.4" y="292.4" width="105.3" height="41.3" rx="2" ry="2" fill="#fff" fill-opacity="0.8" stroke="#cccccc" stroke-width="0.95"/>
<path d="M562.4 299.4H580.9" stroke="#ff0000" stroke-width="0.55"/>
<circle cx="571.65" cy="299.4" r="0.7" fill="#ff0000"/>
<path d="M562.4 312.9H580.9" stroke="#0000ff" stroke-width="1.1"/>
<circle cx="571.65" cy="312.9" r="0.9" fill="#0000ff"/>
<path d="M562.4 326H580.9M571.65 321.4V330.6" stroke="#ff0000" stroke-width="0.95" fill="none"/>
<text class="lg" x="587.9" y="302.4">observed</text>
<text class="lg" x="587.9" y="315.9">sim_2_kzmin_1.5</text>
<text class="lg" x="587.9" y="329">1sigma</text>
</g>
<g>
<clipPath id="cpc"><rect x="57.8" y="559" width="607.3" height="212.5"/></clipPath>
<g clip-path="url(#cpc)">
<polyline points="85.5,707.12 88.8,702.81 92.11,704.04 95.41,692.34 98.71,690.49 102.01,701.58 105.32,710.2 108.62,708.35 111.92,704.04 115.23,710.44 118.53,707.12 121.83,710.2 125.14,694.19 128.44,694.19 131.74,713.89 135.04,707.73 138.35,714.51 141.65,714.51 144.95,714.51 148.26,713.89 151.56,710.2 154.86,704.04 158.17,695.42 161.47,686.8 164.77,683.1 168.07,684.95 171.38,683.72 174.68,679.41 177.98,697.88 181.29,699.73 184.59,681.26 187.89,689.26 191.2,700.96 194.5,699.11 197.8,699.73 201.1,695.42 204.41,697.88 207.71,700.34 211.01,701.58 214.32,702.81 217.62,704.04 220.92,696.65 224.22,707.12 227.53,704.04 230.83,676.95 234.13,683.1 237.44,692.96 240.74,683.1 244.04,690.49 247.35,686.8 250.65,697.88 253.95,701.58 257.25,712.04 260.56,694.8 263.86,692.96 267.16,694.19 270.47,700.34 273.77,692.96 277.07,701.58 280.38,701.58 283.68,702.81 286.98,710.2 290.28,696.65 293.59,705.27 296.89,711.43 300.19,710.2 303.5,712.66 306.8,688.03 310.1,695.42 313.41,694.19 316.71,689.26 320.01,691.72 323.31,693.57 326.62,689.26 329.92,699.11 333.22,689.26 336.53,705.27 339.83,687.41 343.13,698.5 346.44,705.89 349.74,705.89 353.04,703.42 356.34,706.5 359.65,692.96 362.95,699.73 366.25,699.98 369.56,707.73 372.86,702.81 376.16,694.19 379.46,698.5 382.77,685.57 386.07,691.72 389.37,673.87 392.68,678.18 395.98,681.87 399.28,683.1 402.59,697.88 405.89,707.12 409.19,689.26 412.49,679.41 415.8,679.41 419.1,678.79 422.4,702.19 425.71,704.04 429.01,697.88 432.31,696.65 435.62,697.88 438.92,688.03 442.22,708.97 445.52,717.59 448.83,718.2 452.13,700.34 455.43,708.97 458.74,711.43 462.04,696.03 465.34,692.96 468.65,675.71 471.95,692.96 475.25,680.64 478.55,680.02 481.86,713.89 485.16,702.81 488.46,695.42 491.77,700.34 495.07,697.88 498.37,696.03 501.67,686.18 504.98,700.96 508.28,686.8 511.58,685.57 514.89,702.81 518.19,712.66 521.49,711.43 524.8,709.58 528.1,697.88 531.4,717.59 534.7,700.34 538.01,698.5 541.31,698.5 544.61,686.8 547.92,678.18 551.22,675.71 554.52,686.18 557.83,694.19 561.13,697.88 564.43,693.57 567.73,695.42 571.04,700.96 574.34,694.19 577.64,690.49 580.95,702.81 584.25,701.58 587.55,705.27 590.86,689.26 594.16,697.88 597.46,702.81 600.76,708.97 604.07,704.04 607.37,694.19 610.67,698.87 613.98,701.58 617.28,698.5 620.58,698.5 623.89,704.66 627.19,694.19 630.49,700.59 633.79,700.34 637.1,702.56" stroke="#ff0000" stroke-width="0.65" fill="none" stroke-linejoin="round"/>
<path d="M85.5 707.12h0M88.8 702.81h0M92.11 704.04h0M95.41 692.34h0M98.71 690.49h0M102.01 701.58h0M105.32 710.2h0M108.62 708.35h0M111.92 704.04h0M115.23 710.44h0M118.53 707.12h0M121.83 710.2h0M125.14 694.19h0M128.44 694.19h0M131.74 713.89h0M135.04 707.73h0M138.35 714.51h0M141.65 714.51h0M144.95 714.51h0M148.26 713.89h0M151.56 710.2h0M154.86 704.04h0M158.17 695.42h0M161.47 686.8h0M164.77 683.1h0M168.07 684.95h0M171.38 683.72h0M174.68 679.41h0M177.98 697.88h0M181.29 699.73h0M184.59 681.26h0M187.89 689.26h0M191.2 700.96h0M194.5 699.11h0M197.8 699.73h0M201.1 695.42h0M204.41 697.88h0M207.71 700.34h0M211.01 701.58h0M214.32 702.81h0M217.62 704.04h0M220.92 696.65h0M224.22 707.12h0M227.53 704.04h0M230.83 676.95h0M234.13 683.1h0M237.44 692.96h0M240.74 683.1h0M244.04 690.49h0M247.35 686.8h0M250.65 697.88h0M253.95 701.58h0M257.25 712.04h0M260.56 694.8h0M263.86 692.96h0M267.16 694.19h0M270.47 700.34h0M273.77 692.96h0M277.07 701.58h0M280.38 701.58h0M283.68 702.81h0M286.98 710.2h0M290.28 696.65h0M293.59 705.27h0M296.89 711.43h0M300.19 710.2h0M303.5 712.66h0M306.8 688.03h0M310.1 695.42h0M313.41 694.19h0M316.71 689.26h0M320.01 691.72h0M323.31 693.57h0M326.62 689.26h0M329.92 699.11h0M333.22 689.26h0M336.53 705.27h0M339.83 687.41h0M343.13 698.5h0M346.44 705.89h0M349.74 705.89h0M353.04 703.42h0M356.34 706.5h0M359.65 692.96h0M362.95 699.73h0M366.25 699.98h0M369.56 707.73h0M372.86 702.81h0M376.16 694.19h0M379.46 698.5h0M382.77 685.57h0M386.07 691.72h0M389.37 673.87h0M392.68 678.18h0M395.98 681.87h0M399.28 683.1h0M402.59 697.88h0M405.89 707.12h0M409.19 689.26h0M412.49 679.41h0M415.8 679.41h0M419.1 678.79h0M422.4 702.19h0M425.71 704.04h0M429.01 697.88h0M432.31 696.65h0M435.62 697.88h0M438.92 688.03h0M442.22 708.97h0M445.52 717.59h0M448.83 718.2h0M452.13 700.34h0M455.43 708.97h0M458.74 711.43h0M462.04 696.03h0M465.34 692.96h0M468.65 675.71h0M471.95 692.96h0M475.25 680.64h0M478.55 680.02h0M481.86 713.89h0M485.16 702.81h0M488.46 695.42h0M491.77 700.34h0M495.07 697.88h0M498.37 696.03h0M501.67 686.18h0M504.98 700.96h0M508.28 686.8h0M511.58 685.57h0M514.89 702.81h0M518.19 712.66h0M521.49 711.43h0M524.8 709.58h0M528.1 697.88h0M531.4 717.59h0M534.7 700.34h0M538.01 698.5h0M541.31 698.5h0M544.61 686.8h0M547.92 678.18h0M551.22 675.71h0M554.52 686.18h0M557.83 694.19h0M561.13 697.88h0M564.43 693.57h0M567.73 695.42h0M571.04 700.96h0M574.34 694.19h0M577.64 690.49h0M580.95 702.81h0M584.25 701.58h0M587.55 705.27h0M590.86 689.26h0M594.16 697.88h0M597.46 702.81h0M600.76 708.97h0M604.07 704.04h0M607.37 694.19h0M610.67 698.87h0M613.98 701.58h0M617.28 698.5h0M620.58 698.5h0M623.89 704.66h0M627.19 694.19h0M630.49 700.59h0M633.79 700.34h0M637.1 702.56h0" stroke="#ff0000" stroke-width="1.3" stroke-linecap="round" fill="none"/>
<polyline points="85.5,711.43 88.8,641.48 92.11,716.97 95.41,707.12 98.71,702.81 102.01,676.95 105.32,699.11 108.62,694.19 111.92,712.66 115.23,719.43 118.53,714.51 121.83,700.34 125.14,685.57 128.44,640.37 131.74,710.81 135.04,716.35 138.35,715.74 141.65,720.05 144.95,717.59 148.26,714.51 151.56,692.71 154.86,713.89 158.17,700.34 161.47,715.37 164.77,715.37 168.07,712.66 171.38,710.81 174.68,704.04 177.98,682.49 181.29,708.97 184.59,703.79 187.89,710.81 191.2,713.89 194.5,697.27 197.8,681.87 201.1,717.59 204.41,710.2 207.71,694.8 211.01,720.67 214.32,718.82 217.62,712.04 220.92,710.2 224.22,699.11 227.53,707.12 230.83,705.89 234.13,702.81 237.44,713.65 240.74,696.65 244.04,696.03 247.35,689.88 250.65,713.65 253.95,713.28 257.25,707.73 260.56,706.5 263.86,702.81 267.16,700.96 270.47,699.11 273.77,708.97 277.07,699.11 280.38,717.59 283.68,714.88 286.98,718.2 290.28,718.2 293.59,708.35 296.89,718.82 300.19,710.2 303.5,688.65 306.8,705.27 310.1,683.1 313.41,697.88 316.71,680.02 320.01,713.28 323.31,713.65 326.62,700.34 329.92,715.37 333.22,712.66 336.53,708.35 339.83,697.88 343.13,708.97 346.44,713.89 349.74,712.66 353.04,716.11 356.34,651.08 359.65,719.8 362.95,715.12 366.25,712.66 369.56,711.43 372.86,707.12 376.16,662.17 379.46,696.65 382.77,660.32 386.07,688.65 389.37,715.12 392.68,658.23 395.98,715.12 399.28,691.48 402.59,691.11 405.89,690.49 409.19,694.19 412.49,661.55 415.8,677.56 419.1,657.86 422.4,708.35 425.71,716.97 429.01,713.28 432.31,710.44 435.62,676.33 438.92,664.63 442.22,667.71 445.52,700.96 448.83,683.1 452.13,687.41 455.43,718.2 458.74,707.12 462.04,703.42 465.34,715.12 468.65,688.65 471.95,707.73 475.25,668.94 478.55,719.43 481.86,719.43 485.16,699.11 488.46,708.97 491.77,713.65 495.07,702.81 498.37,713.28 501.67,712.04 504.98,715.37 508.28,707.12 511.58,712.04 514.89,712.66 518.19,714.51 521.49,716.35 524.8,717.59 528.1,718.2 531.4,712.66 534.7,707.12 538.01,714.51 541.31,714.88 544.61,683.1 547.92,666.48 551.22,705.89 554.52,699.73 557.83,702.19 561.13,702.19 564.43,700.34 567.73,713.89 571.04,712.04 574.34,713.89 577.64,707.49 580.95,709.58 584.25,707.73 587.55,702.19 590.86,715.12 594.16,693.57 597.46,704.04 600.76,716.35 604.07,716.97 607.37,715.12 610.67,716.11 613.98,718.2 617.28,716.35 620.58,718.57 623.89,713.89 627.19,713.28 630.49,707.49 633.79,717.83 637.1,705.27" stroke="#0000ff" stroke-width="1.15" fill="none" stroke-linejoin="round"/>
<path d="M85.5 711.43h0M88.8 641.48h0M92.11 716.97h0M95.41 707.12h0M98.71 702.81h0M102.01 676.95h0M105.32 699.11h0M108.62 694.19h0M111.92 712.66h0M115.23 719.43h0M118.53 714.51h0M121.83 700.34h0M125.14 685.57h0M128.44 640.37h0M131.74 710.81h0M135.04 716.35h0M138.35 715.74h0M141.65 720.05h0M144.95 717.59h0M148.26 714.51h0M151.56 692.71h0M154.86 713.89h0M158.17 700.34h0M161.47 715.37h0M164.77 715.37h0M168.07 712.66h0M171.38 710.81h0M174.68 704.04h0M177.98 682.49h0M181.29 708.97h0M184.59 703.79h0M187.89 710.81h0M191.2 713.89h0M194.5 697.27h0M197.8 681.87h0M201.1 717.59h0M204.41 710.2h0M207.71 694.8h0M211.01 720.67h0M214.32 718.82h0M217.62 712.04h0M220.92 710.2h0M224.22 699.11h0M227.53 707.12h0M230.83 705.89h0M234.13 702.81h0M237.44 713.65h0M240.74 696.65h0M244.04 696.03h0M247.35 689.88h0M250.65 713.65h0M253.95 713.28h0M257.25 707.73h0M260.56 706.5h0M263.86 702.81h0M267.16 700.96h0M270.47 699.11h0M273.77 708.97h0M277.07 699.11h0M280.38 717.59h0M283.68 714.88h0M286.98 718.2h0M290.28 718.2h0M293.59 708.35h0M296.89 718.82h0M300.19 710.2h0M303.5 688.65h0M306.8 705.27h0M310.1 683.1h0M313.41 697.88h0M316.71 680.02h0M320.01 713.28h0M323.31 713.65h0M326.62 700.34h0M329.92 715.37h0M333.22 712.66h0M336.53 708.35h0M339.83 697.88h0M343.13 708.97h0M346.44 713.89h0M349.74 712.66h0M353.04 716.11h0M356.34 651.08h0M359.65 719.8h0M362.95 715.12h0M366.25 712.66h0M369.56 711.43h0M372.86 707.12h0M376.16 662.17h0M379.46 696.65h0M382.77 660.32h0M386.07 688.65h0M389.37 715.12h0M392.68 658.23h0M395.98 715.12h0M399.28 691.48h0M402.59 691.11h0M405.89 690.49h0M409.19 694.19h0M412.49 661.55h0M415.8 677.56h0M419.1 657.86h0M422.4 708.35h0M425.71 716.97h0M429.01 713.28h0M432.31 710.44h0M435.62 676.33h0M438.92 664.63h0M442.22 667.71h0M445.52 700.96h0M448.83 683.1h0M452.13 687.41h0M455.43 718.2h0M458.74 707.12h0M462.04 703.42h0M465.34 715.12h0M468.65 688.65h0M471.95 707.73h0M475.25 668.94h0M478.55 719.43h0M481.86 719.43h0M485.16 699.11h0M488.46 708.97h0M491.77 713.65h0M495.07 702.81h0M498.37 713.28h0M501.67 712.04h0M504.98 715.37h0M508.28 707.12h0M511.58 712.04h0M514.89 712.66h0M518.19 714.51h0M521.49 716.35h0M524.8 717.59h0M528.1 718.2h0M531.4 712.66h0M534.7 707.12h0M538.01 714.51h0M541.31 714.88h0M544.61 683.1h0M547.92 666.48h0M551.22 705.89h0M554.52 699.73h0M557.83 702.19h0M561.13 702.19h0M564.43 700.34h0M567.73 713.89h0M571.04 712.04h0M574.34 713.89h0M577.64 707.49h0M580.95 709.58h0M584.25 707.73h0M587.55 702.19h0M590.86 715.12h0M594.16 693.57h0M597.46 704.04h0M600.76 716.35h0M604.07 716.97h0M607.37 715.12h0M610.67 716.11h0M613.98 718.2h0M617.28 716.35h0M620.58 718.57h0M623.89 713.89h0M627.19 713.28h0M630.49 707.49h0M633.79 717.83h0M637.1 705.27h0" stroke="#0000ff" stroke-width="1.7" stroke-linecap="round" fill="none"/>
<path d="M88.8 718.2V691.72M92.11 721.28V697.27M95.41 719.43V676.95M98.71 710.2V678.18M102.01 706.5V696.03M105.32 715.12V706.5M108.62 712.66V703.42M111.92 716.97V691.72M115.23 713.89V706.5M118.53 721.9V694.8M121.83 718.2V705.27M125.14 755.64V668.33M128.44 707.12V689.88M131.74 726.21V711.43M135.04 743.45V689.26M138.35 716.97V712.66M141.65 720.05V710.81M144.95 715.74V713.65M148.26 723.13V706.5M151.56 722.51V700.34M154.86 719.43V692.96M158.17 728.67V678.18M161.47 705.27V672.02M164.77 704.04V670.17M168.07 703.42V674.48M171.38 697.27V675.1M174.68 681.26V677.56M177.98 709.58V685.57M181.29 707.12V692.96M184.59 686.18V670.17M187.89 726.82V678.18M191.2 712.66V695.42M194.5 722.51V681.87M197.8 728.05V688.03M201.1 719.43V680.02M204.41 706.5V692.34M207.71 712.04V688.65M211.01 710.2V692.96M214.32 713.89V692.96M217.62 714.51V697.27M220.92 710.2V687.41M224.22 722.51V700.96M227.53 706.5V700.34M230.83 681.87V673M234.13 697.27V676.33M237.44 697.88V685.57M240.74 702.81V669.56M244.04 706.5V686.18M247.35 692.34V675.71M250.65 715.12V682.49M253.95 707.12V696.03M257.25 713.89V709.58M260.56 699.11V689.88M263.86 718.2V679.41M267.16 705.27V687.41M270.47 716.35V694.19M273.77 702.19V680.02M277.07 721.9V692.96M280.38 706.5V696.03M283.68 712.66V694.8M286.98 717.59V704.04M290.28 708.97V686.18M293.59 725.59V691.11M296.89 723.74V704.04M300.19 725.59V696.03M303.5 721.9V711.43M306.8 713.89V670.17M310.1 703.42V689.26M313.41 703.42V688.65M316.71 703.42V679.41M320.01 704.04V680.64M323.31 706.5V688.65M326.62 706.5V676.33M329.92 702.19V696.65M333.22 700.34V676.33M336.53 713.89V699.11M339.83 713.28V670.17M343.13 717.59V686.8M346.44 717.59V697.27M349.74 712.66V700.34M353.04 711.43V695.42M356.34 724.98V696.03M359.65 708.97V678.18M362.95 705.27V694.19M366.25 700.96V698.87M369.56 722.51V700.34M372.86 718.2V691.72M376.16 728.67V676.95M379.46 710.81V690.49M382.77 714.51V669.56M386.07 729.29V678.79M389.37 682.49V666.48M392.68 705.89V665.25M395.98 694.8V672.02M399.28 697.27V674.48M402.59 715.12V687.41M405.89 721.28V700.34M409.19 691.72V676.33M412.49 695.42V667.71M415.8 698.5V668.33M419.1 697.27V665.86M422.4 712.66V691.72M425.71 708.97V701.58M429.01 726.21V683.1M432.31 710.2V686.8M435.62 713.28V689.26M438.92 702.19V676.33M442.22 729.9V694.19M445.52 722.51V712.04M448.83 723.74V713.89M452.13 711.43V688.03M455.43 729.9V689.88M458.74 720.05V708.97M462.04 746.03V676.95M465.34 715.74V678.79M468.65 686.8V673.25M471.95 708.97V686.8M475.25 684.95V676.33M478.55 689.88V672.02M481.86 720.05V708.97M485.16 728.67V693.57M488.46 732.98V676.95M491.77 714.51V692.34M495.07 704.04V692.34M498.37 713.89V685.57M501.67 690.49V678.18M504.98 715.74V698.5M508.28 704.66V676.95M511.58 697.88V675.71M514.89 723.74V689.26M518.19 721.9V707.12M521.49 712.66V710.2M524.8 720.05V700.96M528.1 723.13V681.26M531.4 724.36V715.12M534.7 719.43V686.8M538.01 708.35V690.49M541.31 723.13V686.18M544.61 703.42V676.95M547.92 690.49V672.64M551.22 680.64V671.4M554.52 689.88V682.49M557.83 705.89V685.57M561.13 706.5V692.96M564.43 699.11V686.18M567.73 726.21V680.02M571.04 713.89V694.8M574.34 712.66V681.87M577.64 700.34V682.49M580.95 710.2V698.5M584.25 738.52V684.95M587.55 721.28V699.73M590.86 694.8V683.1M594.16 710.81V692.96M597.46 704.04V702.19M600.76 721.9V701.58M604.07 716.35V695.42M607.37 708.35V684.33M610.67 700.34V697.27M613.98 713.28V694.19M617.28 704.04V694.19M620.58 707.12V691.11M623.89 707.12V702.81M627.19 696.03V693.2M630.49 702.19V699.11M633.79 700.96V699.73M637.1 703.42V701.58M125.14 769.4V771.2" stroke="#ff0000" stroke-width="1.3" fill="none"/>
</g>
<path d="M57.8 771.5h-4.0M57.8 700.67h-4.0M57.8 629.83h-4.0M57.8 559h-4.0" stroke="#000" stroke-width="0.95" fill="none"/>
<path d="M57.8 750.18h-2.4M57.8 737.7h-2.4M57.8 728.85h-2.4M57.8 721.99h-2.4M57.8 716.38h-2.4M57.8 711.64h-2.4M57.8 707.53h-2.4M57.8 703.91h-2.4M57.8 679.34h-2.4M57.8 666.87h-2.4M57.8 658.02h-2.4M57.8 651.16h-2.4M57.8 645.55h-2.4M57.8 640.81h-2.4M57.8 636.7h-2.4M57.8 633.07h-2.4M57.8 608.51h-2.4M57.8 596.04h-2.4M57.8 587.19h-2.4M57.8 580.32h-2.4M57.8 574.71h-2.4M57.8 569.97h-2.4M57.8 565.86h-2.4M57.8 562.24h-2.4" stroke="#000" stroke-width="0.7" fill="none"/>
<path d="M85.4 771.5v4.1M164.67 771.5v4.1M243.94 771.5v4.1M323.21 771.5v4.1M402.49 771.5v4.1M481.76 771.5v4.1M561.03 771.5v4.1M640.3 771.5v4.1" stroke="#111" stroke-width="0.9" fill="none"/>
<rect x="57.8" y="559" width="607.3" height="212.5" fill="none" stroke="#000" stroke-width="0.95"/>
<text class="tk ty" x="50" y="775.1" text-anchor="end">10<tspan class="sup" dy="-3.4">2</tspan></text>
<text class="tk ty" x="50" y="704.27" text-anchor="end">10<tspan class="sup" dy="-3.4">3</tspan></text>
<text class="tk ty" x="50" y="633.43" text-anchor="end">10<tspan class="sup" dy="-3.4">4</tspan></text>
<text class="tk ty" x="50" y="562.6" text-anchor="end">10<tspan class="sup" dy="-3.4">5</tspan></text>
<text class="tk" text-anchor="end" transform="translate(84.1 785.1) rotate(-30)">04/05/23</text>
<text class="tk" text-anchor="end" transform="translate(163.37 785.1) rotate(-30)">05/05/23</text>
<text class="tk" text-anchor="end" transform="translate(242.64 785.1) rotate(-30)">06/05/23</text>
<text class="tk" text-anchor="end" transform="translate(321.91 785.1) rotate(-30)">07/05/23</text>
<text class="tk" text-anchor="end" transform="translate(401.19 785.1) rotate(-30)">08/05/23</text>
<text class="tk" text-anchor="end" transform="translate(480.46 785.1) rotate(-30)">09/05/23</text>
<text class="tk" text-anchor="end" transform="translate(559.73 785.1) rotate(-30)">10/05/23</text>
<text class="tk" text-anchor="end" transform="translate(639 785.1) rotate(-30)">11/05/23</text>
<text class="yl" text-anchor="middle" transform="translate(25.8 667.95) rotate(-90)">CO<tspan class="ysub" dy="2.6">2</tspan><tspan dy="-2.6"> (ppm)</tspan></text>
<text class="lt" x="6.2" y="557.7">c)</text>
<text class="tt" x="298.7" y="583.3" textLength="83.6" lengthAdjust="spacingAndGlyphs">station V08</text>
<rect x="554.6" y="563.1" width="105.9" height="41.6" rx="2" ry="2" fill="#fff" fill-opacity="0.8" stroke="#cccccc" stroke-width="0.95"/>
<path d="M557.6 570.1H576.1" stroke="#ff0000" stroke-width="0.55"/>
<circle cx="566.85" cy="570.1" r="0.7" fill="#ff0000"/>
<path d="M557.6 583.6H576.1" stroke="#0000ff" stroke-width="1.1"/>
<circle cx="566.85" cy="583.6" r="0.9" fill="#0000ff"/>
<path d="M557.6 596.7H576.1M566.85 592.1V601.3" stroke="#ff0000" stroke-width="0.95" fill="none"/>
<text class="lg" x="583.1" y="573.1">observed</text>
<text class="lg" x="583.1" y="586.6">sim_2_kzmin_1.5</text>
<text class="lg" x="583.1" y="599.7">1sigma</text>
</g>
<path d="M0.5 0V812M684.5 0V812M0 0.5H685M0 811.5H685" stroke="#7d88ad" stroke-opacity="0.62" stroke-width="1" fill="none"/>
</g></svg></body></html>
